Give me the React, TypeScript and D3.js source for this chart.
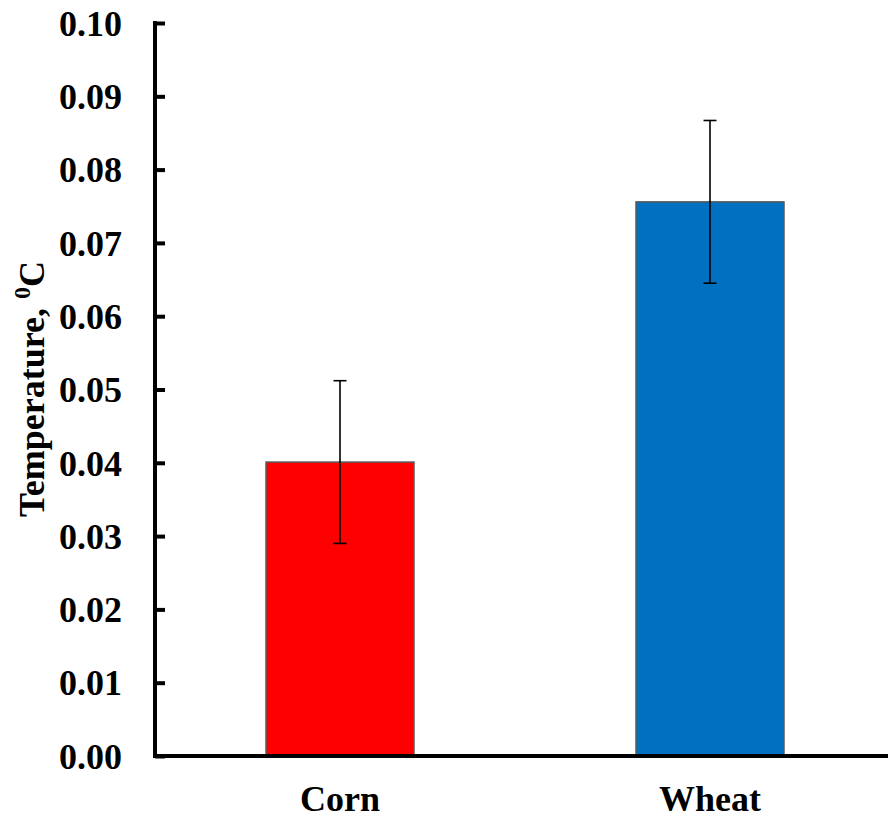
import React, { useRef, useEffect } from "react";
import * as d3 from "d3";

// chart data
const categories = ["Corn", "Wheat"];
const values = [0.0401, 0.0756];
const errors = [0.0111, 0.0111];
const barColors = ["#FF0000", "#0070C0"];
const yTicks = [0, 0.01, 0.02, 0.03, 0.04, 0.05, 0.06, 0.07, 0.08, 0.09, 0.1];

const W = 888;
const H = 818;
const FONT = "Liberation Serif";

export default function App() {
  const ref = useRef<SVGSVGElement>(null);

  useEffect(() => {
    const svg = d3.select(ref.current);
    svg.selectAll("*").remove();

    const x = d3.scaleBand().domain(categories).range([155, 895]).padding(0);
    const y = d3.scaleLinear().domain([0, 0.1]).range([756, 23]);
    const barW = x.bandwidth() * 0.4;

    // bars
    svg
      .selectAll("rect.bar")
      .data(categories)
      .enter()
      .append("rect")
      .attr("class", "bar")
      .attr("x", (d) => x(d)! + x.bandwidth() / 2 - barW / 2)
      .attr("y", (d, i) => y(values[i]))
      .attr("width", barW)
      .attr("height", (d, i) => y(0) - y(values[i]))
      .attr("fill", (d, i) => barColors[i])
      .attr("stroke", "#595959")
      .attr("stroke-width", 1.5);

    // error bars
    const eb = svg
      .selectAll("g.err")
      .data(categories)
      .enter()
      .append("g")
      .attr("class", "err")
      .attr("stroke", "#000")
      .attr("stroke-width", 1.6);
    eb.append("line")
      .attr("x1", (d) => x(d)! + x.bandwidth() / 2)
      .attr("x2", (d) => x(d)! + x.bandwidth() / 2)
      .attr("y1", (d, i) => y(values[i] + errors[i]))
      .attr("y2", (d, i) => y(values[i] - errors[i]));
    [1, -1].forEach((s) => {
      eb.append("line")
        .attr("x1", (d) => x(d)! + x.bandwidth() / 2 - 6.5)
        .attr("x2", (d) => x(d)! + x.bandwidth() / 2 + 6.5)
        .attr("y1", (d, i) => y(values[i] + s * errors[i]))
        .attr("y2", (d, i) => y(values[i] + s * errors[i]));
    });

    // y axis
    const yAxis = svg
      .append("g")
      .attr("transform", "translate(155,0)")
      .call(
        d3
          .axisLeft(y)
          .tickValues(yTicks)
          .tickSize(-10)
          .tickPadding(33)
          .tickFormat(d3.format(".2f"))
      )
      .attr("font-family", FONT)
      .attr("font-size", 36);
    yAxis.select(".domain").remove();
    yAxis.selectAll(".tick line").attr("stroke", "#000").attr("stroke-width", 4);
    yAxis
      .selectAll(".tick text")
      .attr("fill", "#000")
      .attr("font-weight", "bold")
      .attr("dy", "0.34em");
    svg
      .append("line")
      .attr("x1", 155)
      .attr("x2", 155)
      .attr("y1", y(0.1) - 2)
      .attr("y2", y(0) + 2)
      .attr("stroke", "#000")
      .attr("stroke-width", 4);

    // x axis
    svg
      .append("line")
      .attr("x1", 153)
      .attr("x2", W)
      .attr("y1", y(0))
      .attr("y2", y(0))
      .attr("stroke", "#000")
      .attr("stroke-width", 4);
    svg
      .selectAll("text.xlab")
      .data(categories)
      .enter()
      .append("text")
      .attr("class", "xlab")
      .attr("x", (d) => x(d)! + x.bandwidth() / 2)
      .attr("y", 811)
      .attr("text-anchor", "middle")
      .attr("font-family", FONT)
      .attr("font-weight", "bold")
      .attr("font-size", 36)
      .text((d) => d);

    // y label
    const yl = svg
      .append("text")
      .attr("transform", "translate(44,389) rotate(-90)")
      .attr("text-anchor", "middle")
      .attr("font-family", FONT)
      .attr("font-weight", "bold")
      .attr("font-size", 36);
    yl.append("tspan").text("Temperature, ");
    yl.append("tspan").attr("font-size", 24).attr("dy", -14).text("0");
    yl.append("tspan").attr("dy", 14).text("C");
  }, []);

  return (
    <svg
      ref={ref}
      width={W}
      height={H}
      fontFamily={FONT}
      style={{ position: "absolute", left: 0, top: 0, background: "#fff" }}
    />
  );
}
